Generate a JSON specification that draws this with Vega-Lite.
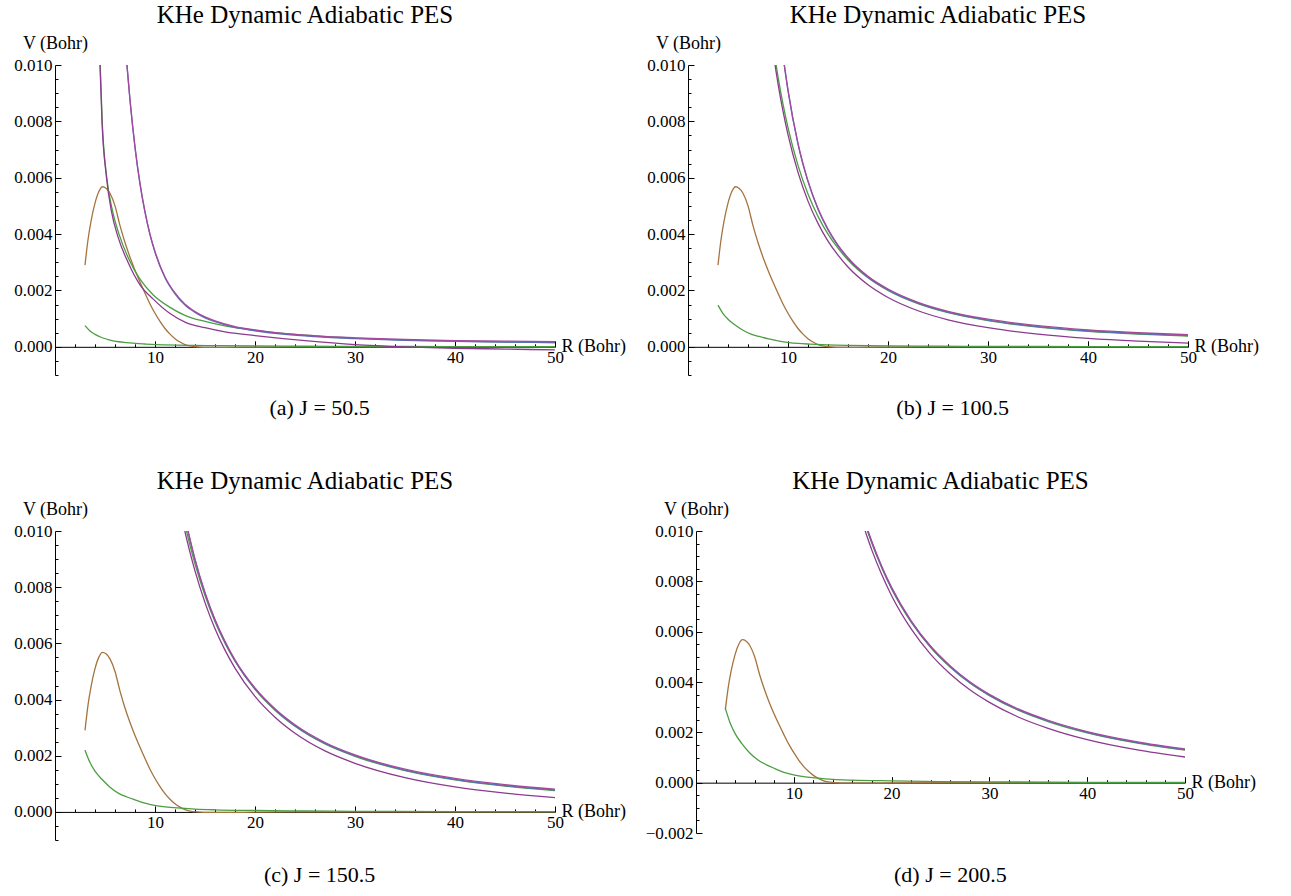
{
"$schema":"https://vega.github.io/schema/vega-lite/v6.json",
"background":"white",
"padding":{"left":13,"top":3,"right":2,"bottom":2},
"config":{"view":{"stroke":null},"axis":{"grid":false,"labelFont":"Liberation Serif","titleFont":"Liberation Serif","labelColor":"#000","titleColor":"#000","domainColor":"#000","tickColor":"#000","titleFontWeight":"normal","labelFontSize":17,"titleFontSize":18,"domainWidth":1,"tickWidth":1},"title":{"font":"Liberation Serif","fontWeight":"normal","color":"#000"}},
"data":{"values":[
{"p":"all","s":"br","R":3.0,"V":0.0029},{"p":"all","s":"br","R":3.3,"V":0.0038},{"p":"all","s":"br","R":3.6,"V":0.00445},{"p":"all","s":"br","R":4.0,"V":0.0051},{"p":"all","s":"br","R":4.4,"V":0.00552},{"p":"all","s":"br","R":4.75,"V":0.00568},{"p":"all","s":"br","R":5.1,"V":0.00563},{"p":"all","s":"br","R":5.5,"V":0.00545},{"p":"all","s":"br","R":6.0,"V":0.005},{"p":"all","s":"br","R":6.5,"V":0.0043},{"p":"all","s":"br","R":7.0,"V":0.0037},{"p":"all","s":"br","R":7.5,"V":0.00318},{"p":"all","s":"br","R":8.0,"V":0.00272},{"p":"all","s":"br","R":8.5,"V":0.0023},{"p":"all","s":"br","R":9.0,"V":0.0019},{"p":"all","s":"br","R":9.5,"V":0.00152},{"p":"all","s":"br","R":10.0,"V":0.00119},{"p":"all","s":"br","R":10.5,"V":0.0009},{"p":"all","s":"br","R":11.0,"V":0.00065},{"p":"all","s":"br","R":11.5,"V":0.00045},{"p":"all","s":"br","R":12.0,"V":0.00029},{"p":"all","s":"br","R":12.5,"V":0.00017},{"p":"all","s":"br","R":13.0,"V":0.00008},{"p":"all","s":"br","R":13.5,"V":0.00003},{"p":"all","s":"br","R":14.2,"V":0.0},{"p":"all","s":"br","R":15.5,"V":-0.00002},{"p":"all","s":"br","R":17,"V":-0.00002},{"p":"all","s":"br","R":20,"V":-0.00001},{"p":"all","s":"br","R":25,"V":0},{"p":"all","s":"br","R":50,"V":0},

{"p":"a","s":"lg","R":3,"V":0.00075},{"p":"a","s":"lg","R":3.5,"V":0.00056},{"p":"a","s":"lg","R":4,"V":0.00044},{"p":"a","s":"lg","R":4.67,"V":0.00033},{"p":"a","s":"lg","R":5.5,"V":0.00024},{"p":"a","s":"lg","R":6.37,"V":0.00018},{"p":"a","s":"lg","R":7.2,"V":0.00015},{"p":"a","s":"lg","R":8.07,"V":0.00012},{"p":"a","s":"lg","R":9,"V":0.0001},{"p":"a","s":"lg","R":10.1,"V":0.00008},{"p":"a","s":"lg","R":11,"V":0.00007},{"p":"a","s":"lg","R":12.2,"V":0.00006},{"p":"a","s":"lg","R":14,"V":0.00005},{"p":"a","s":"lg","R":16,"V":0.00004},{"p":"a","s":"lg","R":20,"V":0.00003},{"p":"a","s":"lg","R":25,"V":0.00002},{"p":"a","s":"lg","R":30,"V":0.000015},{"p":"a","s":"lg","R":40,"V":0.00001},{"p":"a","s":"lg","R":50,"V":0.000005},
{"p":"a","s":"gl","R":4.35,"V":0.011},{"p":"a","s":"gl","R":4.52,"V":0.01},{"p":"a","s":"gl","R":4.72,"V":0.008},{"p":"a","s":"gl","R":5.18,"V":0.006},{"p":"a","s":"gl","R":5.7,"V":0.0049},{"p":"a","s":"gl","R":6.4,"V":0.004},{"p":"a","s":"gl","R":7.4,"V":0.0031},{"p":"a","s":"gl","R":8.5,"V":0.0024},{"p":"a","s":"gl","R":9.8,"V":0.00185},{"p":"a","s":"gl","R":11.5,"V":0.0014},{"p":"a","s":"gl","R":13.1,"V":0.0011},{"p":"a","s":"gl","R":15,"V":0.0009},{"p":"a","s":"gl","R":17,"V":0.00074},{"p":"a","s":"gl","R":20,"V":0.00058},{"p":"a","s":"gl","R":25,"V":0.00041},{"p":"a","s":"gl","R":30,"V":0.00031},{"p":"a","s":"gl","R":35,"V":0.00024},{"p":"a","s":"gl","R":40,"V":0.0002},{"p":"a","s":"gl","R":45,"V":0.00017},{"p":"a","s":"gl","R":50,"V":0.00015},
{"p":"a","s":"pl","R":4.33,"V":0.011},{"p":"a","s":"pl","R":4.5,"V":0.01},{"p":"a","s":"pl","R":4.7,"V":0.008},{"p":"a","s":"pl","R":5.15,"V":0.006},{"p":"a","s":"pl","R":5.65,"V":0.0048},{"p":"a","s":"pl","R":6.3,"V":0.0039},{"p":"a","s":"pl","R":7.3,"V":0.003},{"p":"a","s":"pl","R":8.5,"V":0.0022},{"p":"a","s":"pl","R":9.8,"V":0.0017},{"p":"a","s":"pl","R":11.5,"V":0.00118},{"p":"a","s":"pl","R":13.1,"V":0.00086},{"p":"a","s":"pl","R":15,"V":0.00068},{"p":"a","s":"pl","R":17,"V":0.00053},{"p":"a","s":"pl","R":20,"V":0.0004},{"p":"a","s":"pl","R":25,"V":0.00022},{"p":"a","s":"pl","R":30,"V":0.00008},{"p":"a","s":"pl","R":35,"V":0.0},{"p":"a","s":"pl","R":40,"V":-0.00005},{"p":"a","s":"pl","R":45,"V":-0.00008},{"p":"a","s":"pl","R":50,"V":-0.00011},
{"p":"a","s":"bu","R":7.0,"V":0.01088},{"p":"a","s":"bu","R":7.2,"V":0.00996},{"p":"a","s":"bu","R":7.5,"V":0.00874},{"p":"a","s":"bu","R":8,"V":0.00707},{"p":"a","s":"bu","R":8.5,"V":0.00577},{"p":"a","s":"bu","R":9,"V":0.00477},{"p":"a","s":"bu","R":9.5,"V":0.00397},{"p":"a","s":"bu","R":10,"V":0.00335},{"p":"a","s":"bu","R":11,"V":0.00245},{"p":"a","s":"bu","R":12,"V":0.00188},{"p":"a","s":"bu","R":13,"V":0.00148},{"p":"a","s":"bu","R":14,"V":0.00122},{"p":"a","s":"bu","R":15,"V":0.00103},{"p":"a","s":"bu","R":16,"V":0.00089},{"p":"a","s":"bu","R":18,"V":0.00069},{"p":"a","s":"bu","R":20,"V":0.00057},{"p":"a","s":"bu","R":23,"V":0.00044},{"p":"a","s":"bu","R":26,"V":0.00036},{"p":"a","s":"bu","R":30,"V":0.00029},{"p":"a","s":"bu","R":35,"V":0.00023},{"p":"a","s":"bu","R":40,"V":0.00019},{"p":"a","s":"bu","R":45,"V":0.00017},{"p":"a","s":"bu","R":50,"V":0.00015},
{"p":"a","s":"mu","R":7.0,"V":0.01091},{"p":"a","s":"mu","R":7.2,"V":0.00999},{"p":"a","s":"mu","R":7.5,"V":0.00877},{"p":"a","s":"mu","R":8,"V":0.0071},{"p":"a","s":"mu","R":8.5,"V":0.0058},{"p":"a","s":"mu","R":9,"V":0.0048},{"p":"a","s":"mu","R":9.5,"V":0.004},{"p":"a","s":"mu","R":10,"V":0.00338},{"p":"a","s":"mu","R":11,"V":0.00248},{"p":"a","s":"mu","R":12,"V":0.00191},{"p":"a","s":"mu","R":13,"V":0.00151},{"p":"a","s":"mu","R":14,"V":0.00125},{"p":"a","s":"mu","R":15,"V":0.00106},{"p":"a","s":"mu","R":16,"V":0.00092},{"p":"a","s":"mu","R":18,"V":0.00072},{"p":"a","s":"mu","R":20,"V":0.0006},{"p":"a","s":"mu","R":23,"V":0.00047},{"p":"a","s":"mu","R":26,"V":0.00039},{"p":"a","s":"mu","R":30,"V":0.00032},{"p":"a","s":"mu","R":35,"V":0.00026},{"p":"a","s":"mu","R":40,"V":0.00022},{"p":"a","s":"mu","R":45,"V":0.0002},{"p":"a","s":"mu","R":50,"V":0.00018},

{"p":"b","s":"lg","R":3,"V":0.00148},{"p":"b","s":"lg","R":3.5,"V":0.00118},{"p":"b","s":"lg","R":4,"V":0.00098},{"p":"b","s":"lg","R":4.67,"V":0.00078},{"p":"b","s":"lg","R":5.5,"V":0.00059},{"p":"b","s":"lg","R":6.37,"V":0.00044},{"p":"b","s":"lg","R":7.2,"V":0.00036},{"p":"b","s":"lg","R":8.07,"V":0.00028},{"p":"b","s":"lg","R":9,"V":0.00021},{"p":"b","s":"lg","R":10.1,"V":0.00015},{"p":"b","s":"lg","R":11,"V":0.00012},{"p":"b","s":"lg","R":12.2,"V":0.000095},{"p":"b","s":"lg","R":14,"V":0.000067},{"p":"b","s":"lg","R":16,"V":0.00005},{"p":"b","s":"lg","R":20,"V":0.000036},{"p":"b","s":"lg","R":25,"V":0.000022},{"p":"b","s":"lg","R":30,"V":0.000015},{"p":"b","s":"lg","R":40,"V":0.000007},{"p":"b","s":"lg","R":50,"V":0.000004},
{"p":"b","s":"gl","R":8.5,"V":0.01074},{"p":"b","s":"gl","R":9,"V":0.00959},{"p":"b","s":"gl","R":9.5,"V":0.00861},{"p":"b","s":"gl","R":10,"V":0.00778},{"p":"b","s":"gl","R":11,"V":0.00644},{"p":"b","s":"gl","R":12,"V":0.00542},{"p":"b","s":"gl","R":13,"V":0.00463},{"p":"b","s":"gl","R":14,"V":0.004},{"p":"b","s":"gl","R":15,"V":0.0035},{"p":"b","s":"gl","R":16,"V":0.00308},{"p":"b","s":"gl","R":18,"V":0.00245},{"p":"b","s":"gl","R":20,"V":0.002},{"p":"b","s":"gl","R":23,"V":0.00153},{"p":"b","s":"gl","R":26,"V":0.00121},{"p":"b","s":"gl","R":30,"V":0.00093},{"p":"b","s":"gl","R":35,"V":0.0007},{"p":"b","s":"gl","R":40,"V":0.00055},{"p":"b","s":"gl","R":45,"V":0.00045},{"p":"b","s":"gl","R":50,"V":0.00038},
{"p":"b","s":"pl","R":8.5,"V":0.01049},{"p":"b","s":"pl","R":9,"V":0.00934},{"p":"b","s":"pl","R":9.5,"V":0.00836},{"p":"b","s":"pl","R":10,"V":0.00753},{"p":"b","s":"pl","R":11,"V":0.00619},{"p":"b","s":"pl","R":12,"V":0.00517},{"p":"b","s":"pl","R":13,"V":0.00438},{"p":"b","s":"pl","R":14,"V":0.00375},{"p":"b","s":"pl","R":15,"V":0.00325},{"p":"b","s":"pl","R":16,"V":0.00283},{"p":"b","s":"pl","R":18,"V":0.0022},{"p":"b","s":"pl","R":20,"V":0.00175},{"p":"b","s":"pl","R":23,"V":0.00128},{"p":"b","s":"pl","R":26,"V":0.00096},{"p":"b","s":"pl","R":30,"V":0.00068},{"p":"b","s":"pl","R":35,"V":0.00045},{"p":"b","s":"pl","R":40,"V":0.0003},{"p":"b","s":"pl","R":45,"V":0.0002},{"p":"b","s":"pl","R":50,"V":0.00013},
{"p":"b","s":"bu","R":9.3,"V":0.0109},{"p":"b","s":"bu","R":9.5,"V":0.01033},{"p":"b","s":"bu","R":10,"V":0.00909},{"p":"b","s":"bu","R":11,"V":0.00719},{"p":"b","s":"bu","R":12,"V":0.00586},{"p":"b","s":"bu","R":13,"V":0.00488},{"p":"b","s":"bu","R":14,"V":0.00415},{"p":"b","s":"bu","R":15,"V":0.00358},{"p":"b","s":"bu","R":16,"V":0.00313},{"p":"b","s":"bu","R":18,"V":0.00247},{"p":"b","s":"bu","R":20,"V":0.00202},{"p":"b","s":"bu","R":23,"V":0.00155},{"p":"b","s":"bu","R":26,"V":0.00123},{"p":"b","s":"bu","R":30,"V":0.00095},{"p":"b","s":"bu","R":35,"V":0.00072},{"p":"b","s":"bu","R":40,"V":0.00057},{"p":"b","s":"bu","R":45,"V":0.00047},{"p":"b","s":"bu","R":50,"V":0.0004},
{"p":"b","s":"mu","R":9.3,"V":0.01093},{"p":"b","s":"mu","R":9.5,"V":0.01036},{"p":"b","s":"mu","R":10,"V":0.00912},{"p":"b","s":"mu","R":11,"V":0.00722},{"p":"b","s":"mu","R":12,"V":0.00589},{"p":"b","s":"mu","R":13,"V":0.00491},{"p":"b","s":"mu","R":14,"V":0.00418},{"p":"b","s":"mu","R":15,"V":0.00361},{"p":"b","s":"mu","R":16,"V":0.00316},{"p":"b","s":"mu","R":18,"V":0.0025},{"p":"b","s":"mu","R":20,"V":0.00205},{"p":"b","s":"mu","R":23,"V":0.00158},{"p":"b","s":"mu","R":26,"V":0.00126},{"p":"b","s":"mu","R":30,"V":0.00098},{"p":"b","s":"mu","R":35,"V":0.00075},{"p":"b","s":"mu","R":40,"V":0.0006},{"p":"b","s":"mu","R":45,"V":0.0005},{"p":"b","s":"mu","R":50,"V":0.00043},

{"p":"c","s":"lg","R":3,"V":0.0022},{"p":"c","s":"lg","R":3.5,"V":0.00176},{"p":"c","s":"lg","R":4,"V":0.00145},{"p":"c","s":"lg","R":4.67,"V":0.00117},{"p":"c","s":"lg","R":5.5,"V":0.00088},{"p":"c","s":"lg","R":6.37,"V":0.00066},{"p":"c","s":"lg","R":7.2,"V":0.00053},{"p":"c","s":"lg","R":8.07,"V":0.00042},{"p":"c","s":"lg","R":9,"V":0.00031},{"p":"c","s":"lg","R":10.1,"V":0.00022},{"p":"c","s":"lg","R":11,"V":0.00018},{"p":"c","s":"lg","R":12.2,"V":0.00014},{"p":"c","s":"lg","R":14,"V":0.0001},{"p":"c","s":"lg","R":16,"V":0.000075},{"p":"c","s":"lg","R":20,"V":0.000053},{"p":"c","s":"lg","R":25,"V":0.000033},{"p":"c","s":"lg","R":30,"V":0.000022},{"p":"c","s":"lg","R":40,"V":0.000011},{"p":"c","s":"lg","R":50,"V":0.000007},
{"p":"c","s":"gl","R":12.5,"V":0.01105},{"p":"c","s":"gl","R":13,"V":0.01022},{"p":"c","s":"gl","R":13.5,"V":0.00949},{"p":"c","s":"gl","R":14,"V":0.00883},{"p":"c","s":"gl","R":15,"V":0.0077},{"p":"c","s":"gl","R":16,"V":0.00677},{"p":"c","s":"gl","R":17,"V":0.00601},{"p":"c","s":"gl","R":18,"V":0.00537},{"p":"c","s":"gl","R":20,"V":0.00436},{"p":"c","s":"gl","R":22,"V":0.00362},{"p":"c","s":"gl","R":24,"V":0.00305},{"p":"c","s":"gl","R":27,"V":0.00242},{"p":"c","s":"gl","R":30,"V":0.00198},{"p":"c","s":"gl","R":35,"V":0.00147},{"p":"c","s":"gl","R":40,"V":0.00114},{"p":"c","s":"gl","R":45,"V":0.00092},{"p":"c","s":"gl","R":50,"V":0.00076},
{"p":"c","s":"pl","R":12.5,"V":0.0108},{"p":"c","s":"pl","R":13,"V":0.00997},{"p":"c","s":"pl","R":13.5,"V":0.00924},{"p":"c","s":"pl","R":14,"V":0.00858},{"p":"c","s":"pl","R":15,"V":0.00745},{"p":"c","s":"pl","R":16,"V":0.00652},{"p":"c","s":"pl","R":17,"V":0.00576},{"p":"c","s":"pl","R":18,"V":0.00512},{"p":"c","s":"pl","R":20,"V":0.00411},{"p":"c","s":"pl","R":22,"V":0.00337},{"p":"c","s":"pl","R":24,"V":0.0028},{"p":"c","s":"pl","R":27,"V":0.00217},{"p":"c","s":"pl","R":30,"V":0.00173},{"p":"c","s":"pl","R":35,"V":0.00122},{"p":"c","s":"pl","R":40,"V":0.00089},{"p":"c","s":"pl","R":45,"V":0.00067},{"p":"c","s":"pl","R":50,"V":0.00051},
{"p":"c","s":"bu","R":12.5,"V":0.01138},{"p":"c","s":"bu","R":13,"V":0.01047},{"p":"c","s":"bu","R":13.5,"V":0.00968},{"p":"c","s":"bu","R":14,"V":0.00897},{"p":"c","s":"bu","R":15,"V":0.00778},{"p":"c","s":"bu","R":16,"V":0.00682},{"p":"c","s":"bu","R":17,"V":0.00604},{"p":"c","s":"bu","R":18,"V":0.00538},{"p":"c","s":"bu","R":20,"V":0.00438},{"p":"c","s":"bu","R":22,"V":0.00364},{"p":"c","s":"bu","R":24,"V":0.00307},{"p":"c","s":"bu","R":27,"V":0.00244},{"p":"c","s":"bu","R":30,"V":0.002},{"p":"c","s":"bu","R":35,"V":0.00149},{"p":"c","s":"bu","R":40,"V":0.00116},{"p":"c","s":"bu","R":45,"V":0.00094},{"p":"c","s":"bu","R":50,"V":0.00078},
{"p":"c","s":"mu","R":12.5,"V":0.01141},{"p":"c","s":"mu","R":13,"V":0.0105},{"p":"c","s":"mu","R":13.5,"V":0.00971},{"p":"c","s":"mu","R":14,"V":0.009},{"p":"c","s":"mu","R":15,"V":0.00781},{"p":"c","s":"mu","R":16,"V":0.00685},{"p":"c","s":"mu","R":17,"V":0.00607},{"p":"c","s":"mu","R":18,"V":0.00541},{"p":"c","s":"mu","R":20,"V":0.00441},{"p":"c","s":"mu","R":22,"V":0.00367},{"p":"c","s":"mu","R":24,"V":0.0031},{"p":"c","s":"mu","R":27,"V":0.00247},{"p":"c","s":"mu","R":30,"V":0.00203},{"p":"c","s":"mu","R":35,"V":0.00152},{"p":"c","s":"mu","R":40,"V":0.00119},{"p":"c","s":"mu","R":45,"V":0.00097},{"p":"c","s":"mu","R":50,"V":0.00081},

{"p":"d","s":"lg","R":3,"V":0.00295},{"p":"d","s":"lg","R":3.5,"V":0.00236},{"p":"d","s":"lg","R":4,"V":0.00195},{"p":"d","s":"lg","R":4.67,"V":0.00156},{"p":"d","s":"lg","R":5.5,"V":0.00118},{"p":"d","s":"lg","R":6.37,"V":0.00089},{"p":"d","s":"lg","R":7.2,"V":0.00071},{"p":"d","s":"lg","R":8.07,"V":0.00056},{"p":"d","s":"lg","R":9,"V":0.00041},{"p":"d","s":"lg","R":10.1,"V":0.0003},{"p":"d","s":"lg","R":11,"V":0.00024},{"p":"d","s":"lg","R":12.2,"V":0.00019},{"p":"d","s":"lg","R":14,"V":0.00013},{"p":"d","s":"lg","R":16,"V":0.0001},{"p":"d","s":"lg","R":20,"V":0.000071},{"p":"d","s":"lg","R":25,"V":0.000044},{"p":"d","s":"lg","R":30,"V":0.00003},{"p":"d","s":"lg","R":40,"V":0.000015},{"p":"d","s":"lg","R":50,"V":0.000009},
{"p":"d","s":"gl","R":17,"V":0.01063},{"p":"d","s":"gl","R":17.5,"V":0.01004},{"p":"d","s":"gl","R":18,"V":0.00949},{"p":"d","s":"gl","R":19,"V":0.00853},{"p":"d","s":"gl","R":20,"V":0.0077},{"p":"d","s":"gl","R":22,"V":0.00638},{"p":"d","s":"gl","R":24,"V":0.00537},{"p":"d","s":"gl","R":26,"V":0.00459},{"p":"d","s":"gl","R":28,"V":0.00396},{"p":"d","s":"gl","R":30,"V":0.00346},{"p":"d","s":"gl","R":33,"V":0.00287},{"p":"d","s":"gl","R":36,"V":0.00243},{"p":"d","s":"gl","R":40,"V":0.00198},{"p":"d","s":"gl","R":45,"V":0.00158},{"p":"d","s":"gl","R":50,"V":0.00129},
{"p":"d","s":"pl","R":17,"V":0.01036},{"p":"d","s":"pl","R":17.5,"V":0.00977},{"p":"d","s":"pl","R":18,"V":0.00922},{"p":"d","s":"pl","R":19,"V":0.00826},{"p":"d","s":"pl","R":20,"V":0.00743},{"p":"d","s":"pl","R":22,"V":0.00611},{"p":"d","s":"pl","R":24,"V":0.0051},{"p":"d","s":"pl","R":26,"V":0.00432},{"p":"d","s":"pl","R":28,"V":0.00369},{"p":"d","s":"pl","R":30,"V":0.00319},{"p":"d","s":"pl","R":33,"V":0.0026},{"p":"d","s":"pl","R":36,"V":0.00216},{"p":"d","s":"pl","R":40,"V":0.00171},{"p":"d","s":"pl","R":45,"V":0.00131},{"p":"d","s":"pl","R":50,"V":0.00102},
{"p":"d","s":"bu","R":17,"V":0.01068},{"p":"d","s":"bu","R":17.5,"V":0.01008},{"p":"d","s":"bu","R":18,"V":0.00953},{"p":"d","s":"bu","R":19,"V":0.00856},{"p":"d","s":"bu","R":20,"V":0.00773},{"p":"d","s":"bu","R":22,"V":0.0064},{"p":"d","s":"bu","R":24,"V":0.00539},{"p":"d","s":"bu","R":26,"V":0.00461},{"p":"d","s":"bu","R":28,"V":0.00398},{"p":"d","s":"bu","R":30,"V":0.00348},{"p":"d","s":"bu","R":33,"V":0.00289},{"p":"d","s":"bu","R":36,"V":0.00245},{"p":"d","s":"bu","R":40,"V":0.002},{"p":"d","s":"bu","R":45,"V":0.0016},{"p":"d","s":"bu","R":50,"V":0.00131},
{"p":"d","s":"mu","R":17,"V":0.01071},{"p":"d","s":"mu","R":17.5,"V":0.01011},{"p":"d","s":"mu","R":18,"V":0.00956},{"p":"d","s":"mu","R":19,"V":0.00859},{"p":"d","s":"mu","R":20,"V":0.00776},{"p":"d","s":"mu","R":22,"V":0.00643},{"p":"d","s":"mu","R":24,"V":0.00542},{"p":"d","s":"mu","R":26,"V":0.00464},{"p":"d","s":"mu","R":28,"V":0.00401},{"p":"d","s":"mu","R":30,"V":0.00351},{"p":"d","s":"mu","R":33,"V":0.00292},{"p":"d","s":"mu","R":36,"V":0.00248},{"p":"d","s":"mu","R":40,"V":0.00203},{"p":"d","s":"mu","R":45,"V":0.00163},{"p":"d","s":"mu","R":50,"V":0.00134}
]},
"spacing":50,
"vconcat":[
{"hconcat":[
{"title":{"text":"(a) J = 50.5","orient":"bottom","anchor":"middle","fontSize":22,"offset":22},
 "vconcat":[{
  "title":{"text":"KHe Dynamic Adiabatic PES","fontSize":25,"frame":"group","anchor":"middle","offset":6},
  "width":500,"height":310,
  "transform":[{"filter":"datum.p == 'a' || datum.p == 'all'"}],
  "layer":[
   {"mark":{"type":"line","interpolate":"monotone","clip":true,"strokeWidth":1.3},
    "encoding":{
     "x":{"field":"R","type":"quantitative","scale":{"domain":[0,50],"nice":false,"zero":false},
          "axis":{"orient":"bottom","values":[10,20,30,40,50],"tickSize":-6,"labelPadding":9,"labelFlush":false,"offset":-28.18,"title":"R (Bohr)","titleAngle":0,"titleAlign":"left","titleBaseline":"middle","titleX":506,"titleY":0}},
     "y":{"field":"V","type":"quantitative","scale":{"domain":[-0.001,0.01],"nice":false,"zero":false},
          "axis":{"orient":"left","values":[0,0.002,0.004,0.006,0.008,0.01],"format":".3f","tickSize":-6,"labelPadding":9,"title":"V (Bohr)","titleAngle":0,"titleAlign":"center","titleBaseline":"middle","titleX":0,"titleY":-22}},
     "color":{"field":"s","type":"nominal","scale":{"domain":["br","lg","gl","pl","bu","mu"],"range":["#A5733F","#4C9E42","#4C9E42","#8B3A8E","#5670B9","#A5489E"]},"legend":null}}},
   {"mark":{"type":"point","opacity":0,"clip":true},
    "encoding":{
     "x":{"field":"R","type":"quantitative","axis":{"orient":"bottom","values":[2,4,6,8,12,14,16,18,22,24,26,28,32,34,36,38,42,44,46,48],"tickSize":-3,"labels":false,"domain":false,"title":null,"offset":-28.18}},
     "y":{"field":"V","type":"quantitative","axis":{"orient":"left","values":[-0.001,-0.0005,0.0005,0.001,0.0015,0.0025,0.003,0.0035,0.0045,0.005,0.0055,0.0065,0.007,0.0075,0.0085,0.009,0.0095],"tickSize":-3,"labels":false,"domain":false,"title":null}}}}
  ],
  "resolve":{"axis":{"x":"independent","y":"independent"}}
 }]},
{"title":{"text":"(b) J = 100.5","orient":"bottom","anchor":"middle","fontSize":22,"offset":22},
 "vconcat":[{
  "title":{"text":"KHe Dynamic Adiabatic PES","fontSize":25,"frame":"group","anchor":"middle","offset":6},
  "width":500,"height":310,
  "transform":[{"filter":"datum.p == 'b' || datum.p == 'all'"}],
  "layer":[
   {"mark":{"type":"line","interpolate":"monotone","clip":true,"strokeWidth":1.3},
    "encoding":{
     "x":{"field":"R","type":"quantitative","scale":{"domain":[0,50],"nice":false,"zero":false},
          "axis":{"orient":"bottom","values":[10,20,30,40,50],"tickSize":-6,"labelPadding":9,"labelFlush":false,"offset":-28.18,"title":"R (Bohr)","titleAngle":0,"titleAlign":"left","titleBaseline":"middle","titleX":506,"titleY":0}},
     "y":{"field":"V","type":"quantitative","scale":{"domain":[-0.001,0.01],"nice":false,"zero":false},
          "axis":{"orient":"left","values":[0,0.002,0.004,0.006,0.008,0.01],"format":".3f","tickSize":-6,"labelPadding":9,"title":"V (Bohr)","titleAngle":0,"titleAlign":"center","titleBaseline":"middle","titleX":0,"titleY":-22}},
     "color":{"field":"s","type":"nominal","scale":{"domain":["br","lg","gl","pl","bu","mu"],"range":["#A5733F","#4C9E42","#4C9E42","#8B3A8E","#5670B9","#A5489E"]},"legend":null}}},
   {"mark":{"type":"point","opacity":0,"clip":true},
    "encoding":{
     "x":{"field":"R","type":"quantitative","axis":{"orient":"bottom","values":[2,4,6,8,12,14,16,18,22,24,26,28,32,34,36,38,42,44,46,48],"tickSize":-3,"labels":false,"domain":false,"title":null,"offset":-28.18}},
     "y":{"field":"V","type":"quantitative","axis":{"orient":"left","values":[-0.001,-0.0005,0.0005,0.001,0.0015,0.0025,0.003,0.0035,0.0045,0.005,0.0055,0.0065,0.007,0.0075,0.0085,0.009,0.0095],"tickSize":-3,"labels":false,"domain":false,"title":null}}}}
  ],
  "resolve":{"axis":{"x":"independent","y":"independent"}}
 }]}
],"spacing":20},
{"hconcat":[
{"title":{"text":"(c) J = 150.5","orient":"bottom","anchor":"middle","fontSize":22,"offset":24},
 "vconcat":[{
  "title":{"text":"KHe Dynamic Adiabatic PES","fontSize":25,"frame":"group","anchor":"middle","offset":6},
  "width":500,"height":309,
  "transform":[{"filter":"datum.p == 'c' || datum.p == 'all'"}],
  "layer":[
   {"mark":{"type":"line","interpolate":"monotone","clip":true,"strokeWidth":1.3},
    "encoding":{
     "x":{"field":"R","type":"quantitative","scale":{"domain":[0,50],"nice":false,"zero":false},
          "axis":{"orient":"bottom","values":[10,20,30,40,50],"tickSize":-6,"labelPadding":9,"labelFlush":false,"offset":-28.09,"title":"R (Bohr)","titleAngle":0,"titleAlign":"left","titleBaseline":"middle","titleX":506,"titleY":0}},
     "y":{"field":"V","type":"quantitative","scale":{"domain":[-0.001,0.01],"nice":false,"zero":false},
          "axis":{"orient":"left","values":[0,0.002,0.004,0.006,0.008,0.01],"format":".3f","tickSize":-6,"labelPadding":9,"title":"V (Bohr)","titleAngle":0,"titleAlign":"center","titleBaseline":"middle","titleX":0,"titleY":-22}},
     "color":{"field":"s","type":"nominal","scale":{"domain":["br","lg","gl","pl","bu","mu"],"range":["#A5733F","#4C9E42","#4C9E42","#8B3A8E","#5670B9","#A5489E"]},"legend":null}}},
   {"mark":{"type":"point","opacity":0,"clip":true},
    "encoding":{
     "x":{"field":"R","type":"quantitative","axis":{"orient":"bottom","values":[2,4,6,8,12,14,16,18,22,24,26,28,32,34,36,38,42,44,46,48],"tickSize":-3,"labels":false,"domain":false,"title":null,"offset":-28.09}},
     "y":{"field":"V","type":"quantitative","axis":{"orient":"left","values":[-0.001,-0.0005,0.0005,0.001,0.0015,0.0025,0.003,0.0035,0.0045,0.005,0.0055,0.0065,0.007,0.0075,0.0085,0.009,0.0095],"tickSize":-3,"labels":false,"domain":false,"title":null}}}}
  ],
  "resolve":{"axis":{"x":"independent","y":"independent"}}
 }]},
{"title":{"text":"(d) J = 200.5","orient":"bottom","anchor":"middle","fontSize":22,"offset":24},
 "vconcat":[{
  "title":{"text":"KHe Dynamic Adiabatic PES","fontSize":25,"frame":"group","anchor":"middle","offset":6},
  "width":489,"height":302,
  "transform":[{"filter":"datum.p == 'd' || datum.p == 'all'"}],
  "layer":[
   {"mark":{"type":"line","interpolate":"monotone","clip":true,"strokeWidth":1.3},
    "encoding":{
     "x":{"field":"R","type":"quantitative","scale":{"domain":[0,50],"nice":false,"zero":false},
          "axis":{"orient":"bottom","values":[10,20,30,40,50],"tickSize":-6,"labelPadding":9,"labelFlush":false,"offset":-50.33,"title":"R (Bohr)","titleAngle":0,"titleAlign":"left","titleBaseline":"middle","titleX":495,"titleY":0}},
     "y":{"field":"V","type":"quantitative","scale":{"domain":[-0.002,0.01],"nice":false,"zero":false},
          "axis":{"orient":"left","values":[-0.002,0,0.002,0.004,0.006,0.008,0.01],"format":".3f","tickSize":-6,"labelPadding":9,"title":"V (Bohr)","titleAngle":0,"titleAlign":"center","titleBaseline":"middle","titleX":0,"titleY":-22}},
     "color":{"field":"s","type":"nominal","scale":{"domain":["br","lg","gl","pl","bu","mu"],"range":["#A5733F","#4C9E42","#4C9E42","#8B3A8E","#5670B9","#A5489E"]},"legend":null}}},
   {"mark":{"type":"point","opacity":0,"clip":true},
    "encoding":{
     "x":{"field":"R","type":"quantitative","axis":{"orient":"bottom","values":[2,4,6,8,12,14,16,18,22,24,26,28,32,34,36,38,42,44,46,48],"tickSize":-3,"labels":false,"domain":false,"title":null,"offset":-50.33}},
     "y":{"field":"V","type":"quantitative","axis":{"orient":"left","values":[-0.0015,-0.001,-0.0005,0.0005,0.001,0.0015,0.0025,0.003,0.0035,0.0045,0.005,0.0055,0.0065,0.007,0.0075,0.0085,0.009,0.0095],"tickSize":-3,"labels":false,"domain":false,"title":null}}}}
  ],
  "resolve":{"axis":{"x":"independent","y":"independent"}}
 }]}
],"spacing":19}
]
}
